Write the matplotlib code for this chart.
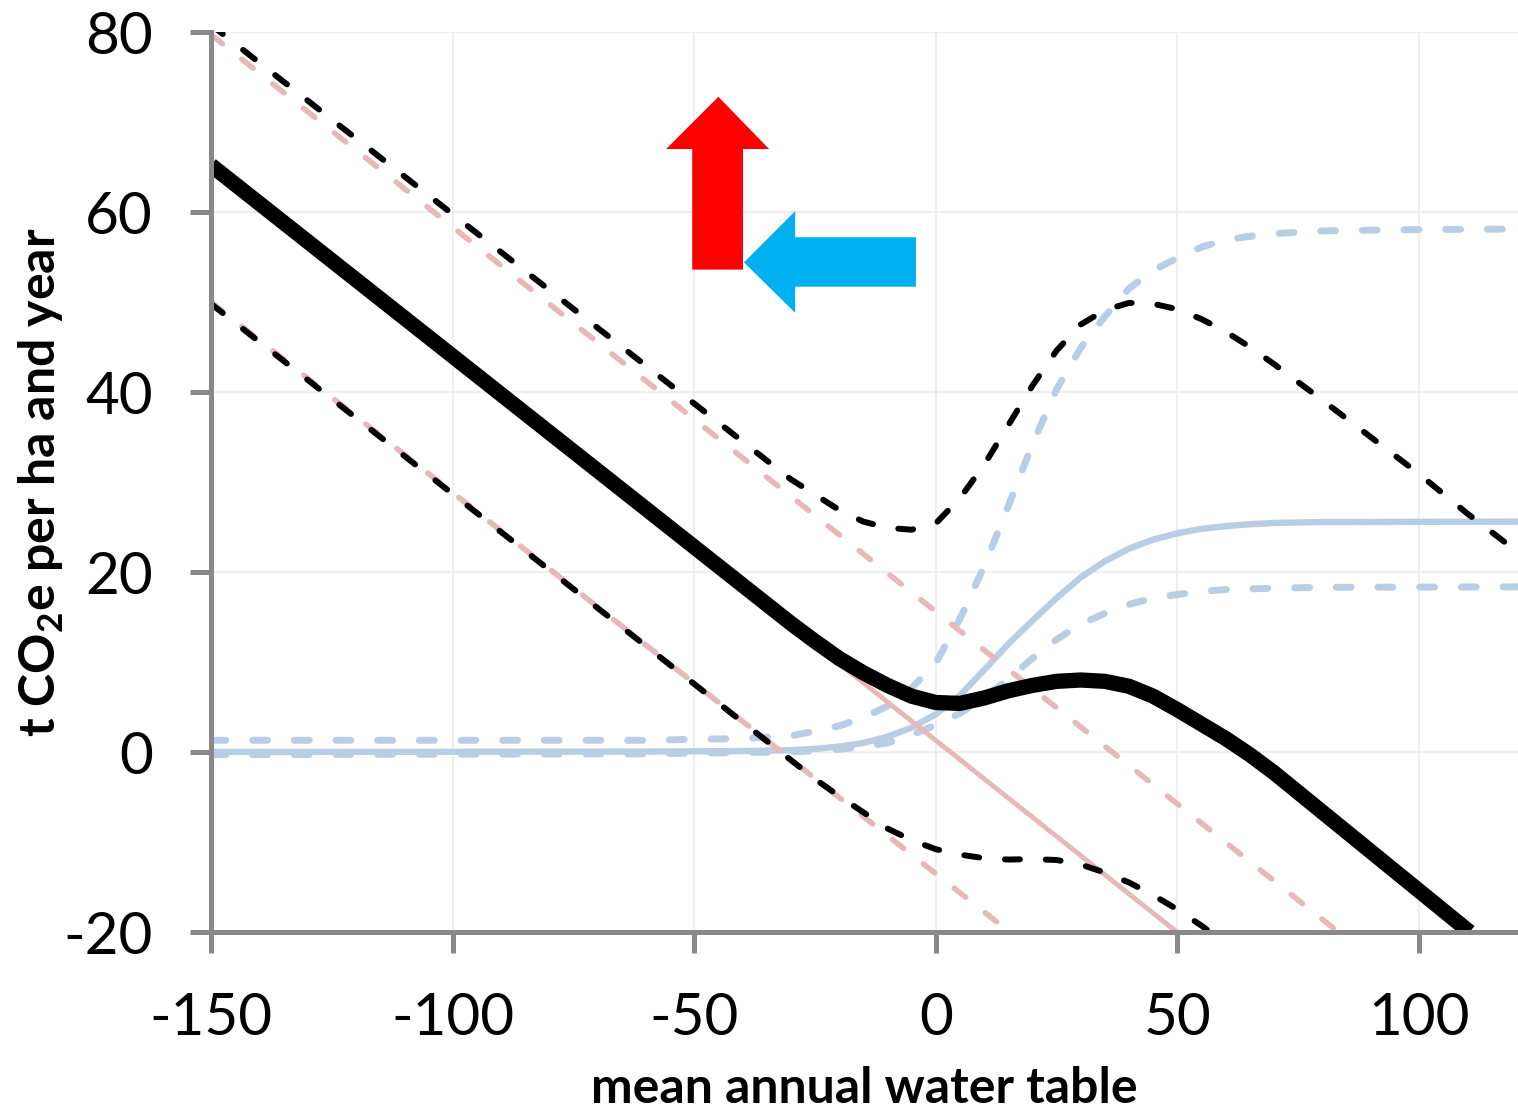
import matplotlib
matplotlib.use("Agg")
import matplotlib.pyplot as plt
from matplotlib.patches import Polygon

plt.rcParams['font.family'] = ['Lato', 'DejaVu Sans']
plt.rcParams['mathtext.fontset'] = 'custom'
plt.rcParams['mathtext.rm'] = 'Lato'
plt.rcParams['mathtext.bf'] = 'Lato:bold'
plt.rcParams['axes.unicode_minus'] = False

# values
total_x = [-150, -30, -25, -20, -15, -10, -5, 0, 5, 10, 15, 20, 25, 30, 35, 40, 45, 50, 55, 60, 65, 70, 110.5]
total_y = [65.2, 14.3, 12.3, 10.4, 8.8, 7.4, 6.2, 5.5, 5.4, 6.0, 6.8, 7.4, 7.85, 8.0, 7.85, 7.3, 6.2, 4.7, 3.1,
           1.5, -0.3, -2.3, -20]

upper_x = [-150, -30, -20, -15, -10, -5, 0, 5, 10, 15, 20, 25, 30, 35, 40, 45, 50, 55, 60, 65, 70,
           80, 90, 100, 110, 120.5]
upper_y = [80.8, 30.3, 26.9, 25.6, 24.9, 24.7, 25.4, 28.2, 31.9, 36.3, 40.7, 44.6, 47.5, 49.1, 49.9, 49.8, 49.2,
           48.1, 46.7, 45.0, 43.1, 39.1, 35.0, 30.9, 26.5, 22.2]

lower_x = [-150, -34, -25, -20, -15, -10, -5, 0, 5, 10, 15, 20, 25, 30, 35, 40, 45, 50, 55, 57]
lower_y = [49.8, 0.8, -3.0, -4.9, -6.7, -8.5, -9.8, -10.8, -11.4, -11.8, -11.95, -11.9, -12.0, -12.5, -13.4,
           -14.5, -15.9, -17.5, -19.3, -20.1]

red_x = [-150, 49.9]
red_y = [65.3, -20]
red_up_x = [-150, 83.3]
red_up_y = [79.7, -20]
red_lo_x = [-150, 15.3]
red_lo_y = [50.0, -20]

blue_x = [-150, -60, -40, -30, -25, -20, -15, -10, -5, 0, 5, 10, 15, 20, 25, 30, 35, 40, 45, 50, 55, 60, 65,
          70, 80, 120.5]
blue_y = [0.0, 0.05, 0.1, 0.2, 0.35, 0.6, 1.0, 1.7, 2.7, 4.2, 6.3, 9.1, 12.0, 14.6, 17.1, 19.4, 21.2, 22.6, 23.6,
          24.3, 24.8, 25.1, 25.3, 25.45, 25.55, 25.6]

blue_up_x = [-150, -60, -40, -30, -25, -20, -15, -10, -5, 0, 5, 10, 15, 20, 25, 30, 35, 40, 45, 50, 55, 60,
             65, 70, 80, 100, 120.5]
blue_up_y = [1.3, 1.3, 1.5, 1.8, 2.3, 2.9, 3.8, 5.1, 7.1, 9.9, 14.8, 20.6, 27.3, 34.2, 40.3, 44.9, 48.4, 51.5,
             53.5, 54.9, 56.1, 56.9, 57.3, 57.6, 57.9, 58.05, 58.1]

blue_lo_x = [-150, -60, -30, -20, -15, -10, -5, 0, 5, 10, 15, 20, 25, 30, 35, 40, 45, 50, 55, 60, 70, 80, 120.5]
blue_lo_y = [-0.3, -0.2, 0.0, 0.3, 0.6, 1.0, 1.9, 3.0, 4.3, 6.0, 8.1, 10.4, 12.5, 14.2, 15.4, 16.4, 17.1, 17.5,
             17.85, 18.05, 18.2, 18.3, 18.35]

RED = '#E6B9B8'
BLUE = '#B9CDE5'
GRAY = '#898989'

fig = plt.figure(figsize=(15.18, 11.16), dpi=100)
ax = fig.add_axes([211 / 1518, 184 / 1116, 1307 / 1518, 900 / 1116])

ax.plot(blue_x, blue_y, color=BLUE, lw=4.6, solid_capstyle='butt')
ax.plot(blue_up_x, blue_up_y, color=BLUE, lw=5, dashes=(2.14, 3.86), dash_capstyle='round')
ax.plot(blue_lo_x, blue_lo_y, color=BLUE, lw=5, dashes=(2.14, 3.86), dash_capstyle='round')

ax.plot(red_x, red_y, color=RED, lw=3.5, solid_capstyle='butt')
ax.plot(red_up_x, red_up_y, color=RED, lw=4, dashes=(2.6, 4.5), dash_capstyle='round')
ax.plot(red_lo_x, red_lo_y, color=RED, lw=4, dashes=(2.6, 4.5), dash_capstyle='round')

ax.plot(upper_x, upper_y, color='black', lw=4.3, dashes=(2.5, 4.33), dash_capstyle='round')
ax.plot(lower_x, lower_y, color='black', lw=4.3, dashes=(2.5, 4.33), dash_capstyle='round')
ax.plot(total_x, total_y, color='black', lw=11, solid_joinstyle='round', solid_capstyle='butt')

# the two block arrows
up_arrow = [(-50.4, 53.6), (-50.4, 67.0), (-55.8, 67.0), (-45.0, 72.8), (-34.5, 67.0), (-39.9, 67.0), (-39.9, 53.6)]
left_arrow = [(-4.1, 57.2), (-29.1, 57.2), (-29.1, 60.1), (-39.7, 54.4), (-29.1, 48.8), (-29.1, 51.7), (-4.1, 51.7)]
ax.add_patch(Polygon(up_arrow, closed=True, color='#FF0000', lw=0, zorder=5))
ax.add_patch(Polygon(left_arrow, closed=True, color='#00B0F0', lw=0, zorder=5))

ax.set_xlim(-150, 120.5)
ax.set_ylim(-20, 80)
ax.set_xticks([-150, -100, -50, 0, 50, 100])
ax.set_yticks([-20, 0, 20, 40, 60, 80])
ax.grid(color='#EFEFEF', lw=1.5)
ax.set_axisbelow(True)

for s in ['top', 'right']:
    ax.spines[s].set_visible(False)
for s in ['left', 'bottom']:
    ax.spines[s].set_color(GRAY)
    ax.spines[s].set_linewidth(3.6)
ax.tick_params(direction='out', length=15, width=3.6, color=GRAY, labelsize=42)
ax.tick_params(axis='x', pad=28)
ax.tick_params(axis='y', pad=27)

ax.set_xlabel('mean annual water table', fontsize=36, fontweight='bold')
ax.set_ylabel(r't CO$_\mathbf{2}$e per ha and year', fontsize=36, fontweight='bold')
ax.xaxis.set_label_coords(0.5, -0.149)
ax.yaxis.set_label_coords(-0.111, 0.5)

fig.savefig('out.png', dpi=100)
